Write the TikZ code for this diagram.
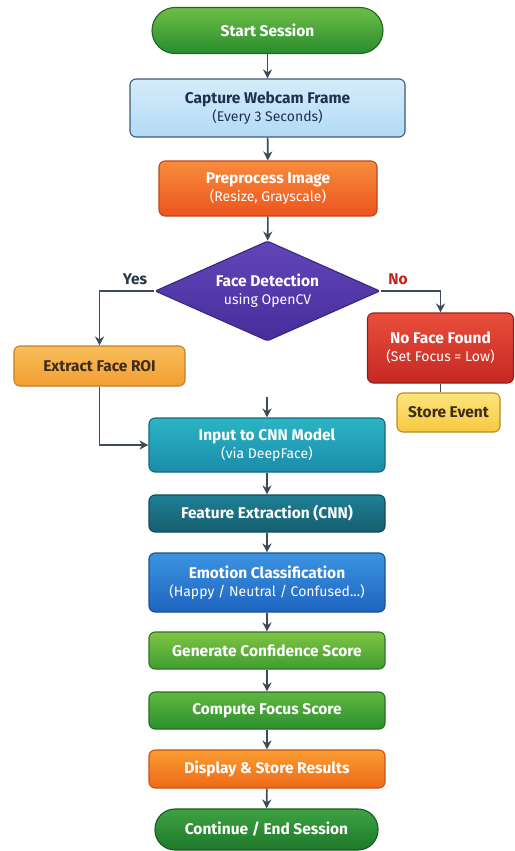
\documentclass[tikz,border=0pt]{standalone}
\usepackage{fontspec}
\setmainfont{Fira Sans}
\usetikzlibrary{shapes.geometric,arrows.meta,calc}
\definecolor{arrc}{HTML}{3C4A5A}
\begin{document}
\begin{tikzpicture}[x=1pt,y=-1pt,
  base/.style={draw, line width=1.1pt, rounded corners=6pt, align=center, inner sep=2pt,
    font=\fontsize{15.5}{18}\selectfont\bfseries, text=white},
  arr/.style={draw=arrc, line width=1.6pt, -{Stealth[length=9pt,width=9pt]}},
  ln/.style={draw=arrc, line width=1.6pt},
  lab/.style={font=\fontsize{15.5}{18}\selectfont\bfseries}
]
\newcommand{\subt}[1]{\\[0pt]{\fontsize{14}{17}\selectfont\mdseries #1}}
\useasboundingbox (0,0) rectangle (514,851);
\fill[white] (0,0) rectangle (514,851);

\node[base, rounded corners=23pt, minimum width=231pt, minimum height=46pt,
  top color={rgb,255:red,110;green,190;blue,70}, bottom color={rgb,255:red,40;green,140;blue,45}, draw={rgb,255:red,30;green,100;blue,40}] (start) at (267.5,30.5) {Start Session};
\node[base, minimum width=275pt, minimum height=58pt,
  top color={rgb,255:red,214;green,236;blue,250}, bottom color={rgb,255:red,178;green,218;blue,244},
  draw={rgb,255:red,60;green,90;blue,125}, text={rgb,255:red,30;green,50;blue,80}] (cap) at (267.5,108)
  {Capture Webcam Frame\subt{(Every 3 Seconds)}};
\node[base, minimum width=218pt, minimum height=55pt,
  top color={rgb,255:red,248;green,140;blue,60}, bottom color={rgb,255:red,236;green,84;blue,30},
  draw={rgb,255:red,190;green,70;blue,30}] (pre) at (268,188.5)
  {Preprocess Image\subt{(Resize, Grayscale)}};
\node[base, shape=diamond, aspect=2.25, rounded corners=2pt, minimum width=225pt, minimum height=100pt, inner sep=0pt,
  top color={rgb,255:red,98;green,70;blue,185}, bottom color={rgb,255:red,70;green,45;blue,155},
  draw={rgb,255:red,60;green,38;blue,125}] (dia) at (267.5,291)
  {Face Detection\subt{using OpenCV}};
\node[base, minimum width=171pt, minimum height=40pt,
  top color={rgb,255:red,250;green,190;blue,90}, bottom color={rgb,255:red,242;green,158;blue,50},
  draw={rgb,255:red,195;green,125;blue,45}, text={rgb,255:red,60;green,45;blue,25}] (ext) at (99.5,366)
  {Extract Face ROI};
\node[base, minimum width=146pt, minimum height=70pt,
  top color={rgb,255:red,234;green,78;blue,60}, bottom color={rgb,255:red,196;green,40;blue,34},
  draw={rgb,255:red,150;green,30;blue,25}] (nof) at (440.5,348)
  {No Face Found\subt{(Set Focus = Low)}};
\node[base, minimum width=103pt, minimum height=39pt,
  top color={rgb,255:red,254;green,228;blue,125}, bottom color={rgb,255:red,247;green,200;blue,65},
  draw={rgb,255:red,180;green,140;blue,35}, text={rgb,255:red,60;green,45;blue,25}] (sto) at (448.5,412.5)
  {Store Event};
\node[base, minimum width=236pt, minimum height=54pt,
  top color={rgb,255:red,44;green,180;blue,198}, bottom color={rgb,255:red,26;green,140;blue,168},
  draw={rgb,255:red,22;green,105;blue,125}] (inp) at (267,445)
  {Input to CNN Model\subt{(via DeepFace)}};
\node[base, minimum width=236pt, minimum height=37pt,
  top color={rgb,255:red,32;green,128;blue,150}, bottom color={rgb,255:red,20;green,94;blue,110},
  draw={rgb,255:red,16;green,75;blue,90}] (fea) at (267,513.5)
  {Feature Extraction (CNN)};
\node[base, minimum width=236pt, minimum height=59pt,
  top color={rgb,255:red,60;green,148;blue,225}, bottom color={rgb,255:red,30;green,100;blue,192},
  draw={rgb,255:red,28;green,80;blue,145}] (emo) at (267,582.5)
  {Emotion Classification\subt{(Happy / Neutral / Confused...)}};
\node[base, minimum width=236pt, minimum height=37pt,
  top color={rgb,255:red,128;green,196;blue,68}, bottom color={rgb,255:red,62;green,158;blue,48},
  draw={rgb,255:red,45;green,118;blue,38}] (gen) at (267,650.5)
  {Generate Confidence Score};
\node[base, minimum width=236pt, minimum height=37pt,
  top color={rgb,255:red,96;green,184;blue,64}, bottom color={rgb,255:red,44;green,142;blue,46},
  draw={rgb,255:red,36;green,110;blue,38}] (com) at (267,710.5)
  {Compute Focus Score};
\node[base, minimum width=236pt, minimum height=38pt,
  top color={rgb,255:red,250;green,156;blue,50}, bottom color={rgb,255:red,238;green,106;blue,24},
  draw={rgb,255:red,195;green,85;blue,25}] (dis) at (267,769)
  {Display \& Store Results};
\node[base, rounded corners=20pt, minimum width=223pt, minimum height=41pt,
  top color={rgb,255:red,62;green,162;blue,66}, bottom color={rgb,255:red,30;green,120;blue,42},
  draw={rgb,255:red,26;green,88;blue,34}] (con) at (266.5,829.5)
  {Continue / End Session};

\coordinate (free) at (267,397);

\draw[arr] (start) -- (cap);
\draw[arr] (cap) -- (pre);
\draw[arr] (pre) -- (dia);
\draw[arr] (dia.west) -| (ext.north);
\draw[arr] (dia.east) -| (nof.north);
\draw[ln] (nof.south) -- (nof.south |- sto.north);
\draw[arr] (ext.south) |- (inp.west);
\draw[arr] (free) -- (inp.north);
\draw[arr] (inp) -- (fea);
\draw[arr] (fea) -- (emo);
\draw[arr] (emo) -- (gen);
\draw[arr] (gen) -- (com);
\draw[arr] (com) -- (dis);
\draw[arr] (dis) -- (con);

\node[lab, text={rgb,255:red,40;green,55;blue,70}] (yes) at (135,279) {Yes};
\node[lab, text={rgb,255:red,195;green,35;blue,28}] (no) at (398,279) {No};
\end{tikzpicture}
\end{document}
